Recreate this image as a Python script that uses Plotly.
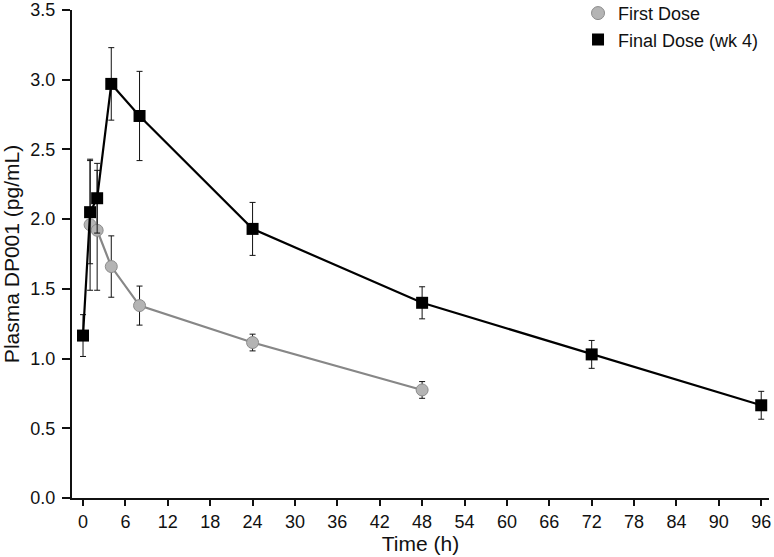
import plotly.graph_objects as go

# Data
first_t = [1, 2, 4, 8, 24, 48]
first_y = [1.96, 1.92, 1.66, 1.38, 1.115, 0.775]
first_err = [0.47, 0.43, 0.22, 0.14, 0.06, 0.06]

final_t = [0, 1, 2, 4, 8, 24, 48, 72, 96]
final_y = [1.165, 2.05, 2.15, 2.97, 2.74, 1.93, 1.40, 1.03, 0.665]
final_err = [0.15, 0.37, 0.25, 0.26, 0.32, 0.19, 0.115, 0.10, 0.10]

x_ticks = list(range(0, 97, 6))
y_ticks = [0.0, 0.5, 1.0, 1.5, 2.0, 2.5, 3.0, 3.5]

GRAY_LINE = "#878787"
GRAY_FILL = "#b4b4b4"
GRAY_EDGE = "#8c8c8c"

fig = go.Figure()
fig.add_trace(go.Scatter(
    x=first_t, y=first_y, name="First Dose", mode="lines+markers",
    showlegend=False,
    line=dict(color=GRAY_LINE, width=2.2),
    marker=dict(symbol="circle", size=12, color=GRAY_FILL,
                line=dict(color=GRAY_EDGE, width=1)),
    error_y=dict(type="data", array=first_err, color="#111111", thickness=1, width=3),
))
fig.add_trace(go.Scatter(
    x=final_t, y=final_y, name="Final Dose (wk 4)", mode="lines+markers",
    showlegend=False,
    line=dict(color="#000000", width=2.2),
    marker=dict(symbol="square", size=12, color="#000000"),
    error_y=dict(type="data", array=final_err, color="#111111", thickness=1, width=3),
))
# legend-only entries (markers only, as in the reference)
fig.add_trace(go.Scatter(
    x=[None], y=[None], name="First Dose", mode="markers",
    marker=dict(symbol="circle", size=13, color=GRAY_FILL,
                line=dict(color=GRAY_EDGE, width=1)),
))
fig.add_trace(go.Scatter(
    x=[None], y=[None], name="Final Dose (wk 4)", mode="markers",
    marker=dict(symbol="square", size=12, color="#000000"),
))

fig.update_layout(
    width=774, height=557,
    margin=dict(l=72, r=5, t=10, b=59, autoexpand=False),
    paper_bgcolor="white", plot_bgcolor="white",
    font=dict(family="Liberation Sans, Arial, sans-serif", size=17, color="#111111"),
    showlegend=True,
    legend=dict(x=0.726, y=1.031, xanchor="left", yanchor="top",
                font=dict(size=18), bgcolor="rgba(0,0,0,0)", tracegroupgap=0,
                itemsizing="trace"),
    xaxis=dict(
        range=[-1.56, 97.1], tickmode="array", tickvals=x_ticks,
        ticks="outside", ticklen=6, tickwidth=1.5, tickcolor="#111",
        showline=True, linecolor="#111", linewidth=2,
        showgrid=False, zeroline=False, automargin=False,
        title=dict(text="Time (h)", standoff=0, font=dict(size=21)),
        tickfont=dict(size=18),
    ),
    yaxis=dict(
        range=[0, 3.5], tickmode="array", tickvals=y_ticks,
        tickformat=".1f",
        ticks="outside", ticklen=8, tickwidth=1.5, tickcolor="#111",
        showline=True, linecolor="#111", linewidth=2,
        showgrid=False, zeroline=False, automargin=False,
        ticklabelstandoff=3,
        title=dict(text="Plasma DP001 (pg/mL)", standoff=5, font=dict(size=21)),
        tickfont=dict(size=18),
    ),
)

fig.write_html(
    "out.html",
    config={"displayModeBar": False},
    post_script="document.body.style.margin='0';document.body.style.overflow='hidden';",
)
